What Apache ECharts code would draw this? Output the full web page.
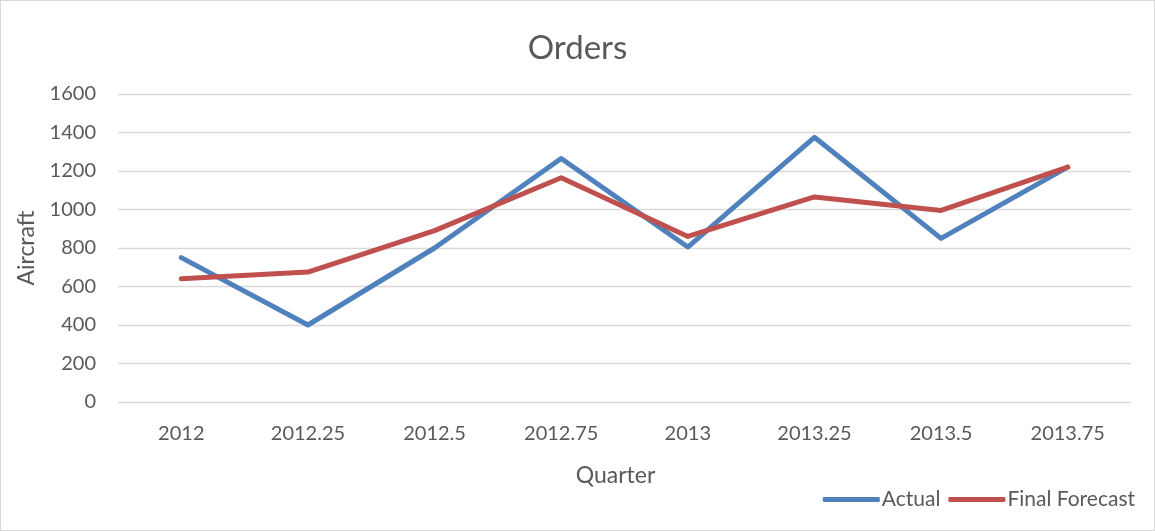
<!DOCTYPE html>
<html>
<head>
<meta charset="utf-8">
<script src="https://cdn.jsdelivr.net/npm/echarts@6/dist/echarts.min.js"></script>
<style>
  html, body { margin: 0; padding: 0; background: #fff; }
  #main { width: 1155px; height: 531px; box-sizing: border-box; border: 1px solid #d9d9d9; }
</style>
</head>
<body>
<div id="main"></div>
<script>
// quarters on the x axis
const quarters = ['2012', '2012.25', '2012.5', '2012.75', '2013', '2013.25', '2013.5', '2013.75']
// values
const actual = [750, 400, 800, 1265, 805, 1375, 850, 1220]
const finalForecast = [640, 675, 890, 1165, 860, 1065, 995, 1220]

const textColor = '#595959'
const font = 'Lato, "Open Sans", sans-serif'

let myChart = echarts.init(document.getElementById('main'))
myChart.setOption({
    animation: false,
    title: {
        text: 'Orders',
        left: 'center',
        top: 26,
        textStyle: { color: textColor, fontSize: 33, fontWeight: 'normal', fontFamily: font }
    },
    legend: {
        data: ['Actual', 'Final Forecast'],
        right: 14,
        top: 483,
        icon: 'roundRect',
        itemWidth: 57,
        itemHeight: 5,
        itemGap: 8,
        textStyle: { color: textColor, fontSize: 21, fontFamily: font, padding: [0, 0, 0, -3] }
    },
    grid: {
        left: 117,
        right: 23,
        top: 93,
        bottom: 128
    },
    xAxis: {
        type: 'category',
        data: quarters,
        name: 'Quarter',
        nameLocation: 'middle',
        nameGap: 62,
        nameTextStyle: { color: textColor, fontSize: 23, fontFamily: font, padding: [0, 18, 0, 0] },
        axisLine: { show: false },
        axisTick: { show: false },
        axisLabel: { color: textColor, fontSize: 20, fontFamily: font, margin: 22 }
    },
    yAxis: {
        type: 'value',
        min: 0,
        max: 1600,
        interval: 200,
        name: 'Aircraft',
        nameLocation: 'middle',
        nameGap: 80,
        nameTextStyle: { color: textColor, fontSize: 23, fontFamily: font },
        axisLabel: { color: textColor, fontSize: 20, fontFamily: font, margin: 22, formatter: v => String(v) },
        splitLine: { lineStyle: { color: '#d9d9d9', width: 1.3 } }
    },
    series: [
        {
            name: 'Actual',
            type: 'line',
            data: actual,
            symbol: 'none',
            color: '#4f81bd',
            lineStyle: { width: 5, cap: 'round', join: 'round' }
        },
        {
            name: 'Final Forecast',
            type: 'line',
            data: finalForecast,
            symbol: 'none',
            color: '#c0504d',
            lineStyle: { width: 5, cap: 'round', join: 'round' }
        }
    ]
})
</script>
</body>
</html>
